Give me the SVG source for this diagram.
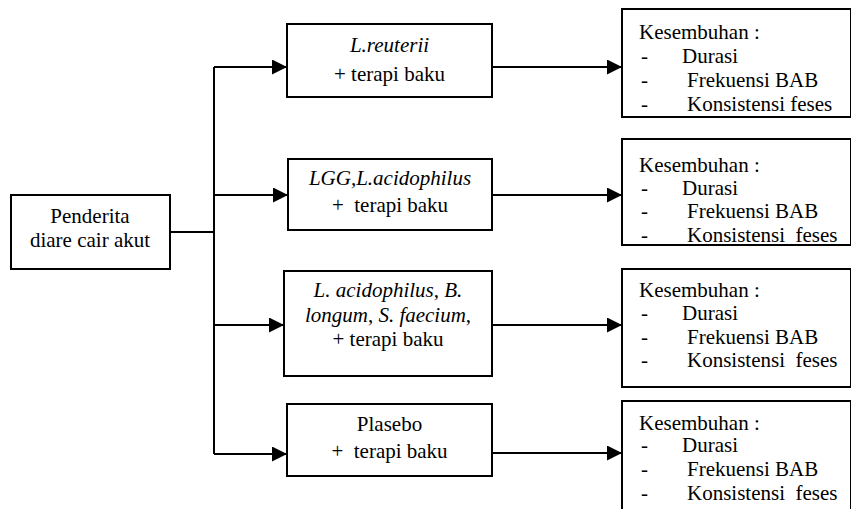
<svg xmlns="http://www.w3.org/2000/svg" width="851" height="509" viewBox="0 0 851 509">
<style>
.box{fill:#fff;stroke:#000;stroke-width:2}
.ln{fill:none;stroke:#000;stroke-width:2}
text{font-family:"Liberation Serif","Times New Roman",serif;font-size:21px;fill:#000}
.c{text-anchor:middle}
.i{font-style:italic}
</style>
<defs>
<marker id="ah" markerWidth="15" markerHeight="15" refX="15" refY="7.5" orient="auto" markerUnits="userSpaceOnUse">
<path d="M0,0 L15,7.5 L0,15 Z" fill="#000"/>
</marker>
</defs>
<rect width="851" height="509" fill="#fff"/>
<g id="connectors">
<path class="ln" d="M170,232 H214"/>
<path class="ln" d="M214,67 V454"/>
<path class="ln" d="M214,67 H287" marker-end="url(#ah)"/>
<path class="ln" d="M214,195 H288" marker-end="url(#ah)"/>
<path class="ln" d="M214,325 H284" marker-end="url(#ah)"/>
<path class="ln" d="M214,454 H287" marker-end="url(#ah)"/>
<path class="ln" d="M492,67 H622" marker-end="url(#ah)"/>
<path class="ln" d="M492,195 H622" marker-end="url(#ah)"/>
<path class="ln" d="M492,325 H622" marker-end="url(#ah)"/>
<path class="ln" d="M492,453 H622" marker-end="url(#ah)"/>
</g>
<g id="start">
<rect class="box" x="11" y="195" width="159" height="74"/>
<text class="c" x="90" y="223">Penderita</text>
<text class="c" x="90" y="247">diare cair akut</text>
</g>
<g id="t1">
<rect class="box" x="287" y="24" width="205" height="73"/>
<text class="c i" x="389.5" y="52">L.reuterii</text>
<text class="c" x="389.5" y="81">+ terapi baku</text>
</g>
<g id="t2">
<rect class="box" x="288" y="159" width="204" height="71"/>
<text class="c i" x="390" y="185">LGG,L.acidophilus</text>
<text class="c" x="390" y="212" xml:space="preserve">+  terapi baku</text>
</g>
<g id="t3">
<rect class="box" x="284" y="271" width="208" height="105"/>
<text class="c i" x="388" y="297">L. acidophilus, B.</text>
<text class="c" x="388" y="322"><tspan class="i">longum</tspan>, <tspan class="i">S. faecium</tspan>,</text>
<text class="c" x="388" y="346">+ terapi baku</text>
</g>
<g id="t4">
<rect class="box" x="287" y="404" width="205" height="72"/>
<text class="c" x="389.5" y="431">Plasebo</text>
<text class="c" x="389.5" y="458" xml:space="preserve">+  terapi baku</text>
</g>
<g id="o1">
<rect class="box" x="622" y="9" width="229" height="108"/>
<text x="639" y="39">Kesembuhan :</text>
<text x="641" y="63">-</text><text x="682" y="63">Durasi</text>
<text x="641" y="87">-</text><text x="687" y="87">Frekuensi BAB</text>
<text x="641" y="111">-</text><text x="687" y="111">Konsistensi feses</text>
</g>
<g id="o2">
<rect class="box" x="622" y="139" width="229" height="106"/>
<text x="639" y="172">Kesembuhan :</text>
<text x="641" y="195">-</text><text x="682" y="195">Durasi</text>
<text x="641" y="218">-</text><text x="687" y="218">Frekuensi BAB</text>
<text x="641" y="242">-</text><text x="687" y="242" xml:space="preserve">Konsistensi  feses</text>
</g>
<g id="o3">
<rect class="box" x="622" y="269" width="229" height="118"/>
<text x="639" y="297">Kesembuhan :</text>
<text x="641" y="320">-</text><text x="682" y="320">Durasi</text>
<text x="641" y="344">-</text><text x="687" y="344">Frekuensi BAB</text>
<text x="641" y="367">-</text><text x="687" y="367" xml:space="preserve">Konsistensi  feses</text>
</g>
<g id="o4">
<rect class="box" x="622" y="401" width="229" height="120"/>
<text x="639" y="430">Kesembuhan :</text>
<text x="641" y="452">-</text><text x="682" y="452">Durasi</text>
<text x="641" y="476">-</text><text x="687" y="476">Frekuensi BAB</text>
<text x="641" y="500">-</text><text x="687" y="500" xml:space="preserve">Konsistensi  feses</text>
</g>
</svg>
